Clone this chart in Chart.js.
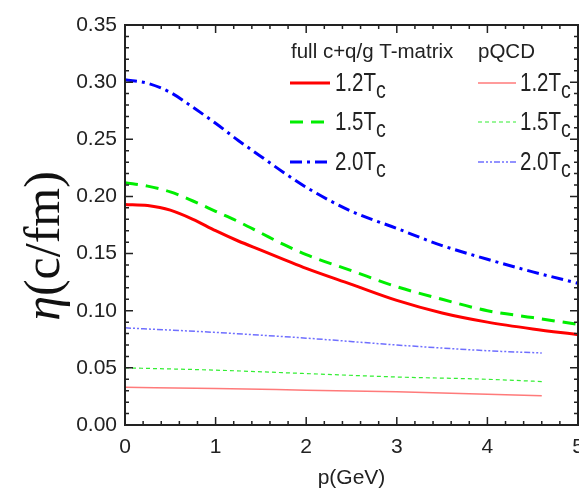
<!DOCTYPE html>
<html>
<head>
<meta charset="utf-8">
<script src="https://cdn.jsdelivr.net/npm/chart.js@4.4.0/dist/chart.umd.min.js"></script>
<style>
  html, body { margin: 0; padding: 0; background: #fff; }
  #wrap { width: 579px; height: 492px; }
</style>
</head>
<body>
<div id="wrap"><canvas id="chart"></canvas></div>
<script>
// momentum grid of the full T-matrix curves (GeV)
const pFull = [0, 0.25, 0.5, 0.75, 1, 1.25, 1.5, 1.75, 2, 2.5, 3, 3.5, 4, 4.5, 5];
const etaFull12 = [0.193, 0.192, 0.188, 0.180, 0.170, 0.161, 0.153, 0.145, 0.137, 0.123, 0.109, 0.098, 0.090, 0.084, 0.079];
const etaFull15 = [0.212, 0.209, 0.204, 0.196, 0.187, 0.178, 0.168, 0.158, 0.149, 0.135, 0.121, 0.110, 0.100, 0.094, 0.088];
const etaFull20 = [0.302, 0.299, 0.291, 0.278, 0.264, 0.249, 0.235, 0.221, 0.208, 0.187, 0.172, 0.157, 0.145, 0.134, 0.124];

// pQCD curves stop a bit before 5 GeV
const pQcd = [0, 1, 2, 3, 4, 4.6];
const etaQcd12 = [0.033, 0.032, 0.0305, 0.029, 0.027, 0.0255];
const etaQcd15 = [0.050, 0.048, 0.045, 0.042, 0.040, 0.038];
const etaQcd20 = [0.085, 0.081, 0.076, 0.070, 0.065, 0.063];

const tempLabels = ['1.2T', '1.5T', '2.0T'];
const tempSub = 'c';
const groupTitles = ['full c+q/g T-matrix', 'pQCD'];
const xTitle = 'p(GeV)';
const yTitle = ['η', '(c/fm)'];
const xMax = 5;
const yMax = 0.35;

const toXY = (xs, ys) => ys.map((y, i) => ({x: xs[i], y: y}));

function line(xs, ys, color, width, dash) {
    return {
        data: toXY(xs, ys),
        borderColor: color,
        borderWidth: width,
        borderDash: dash,
        pointRadius: 0,
        fill: false,
        cubicInterpolationMode: 'monotone'
    };
}

const datasets = [
    line(pFull, etaFull12, '#ff0000', 3, []),
    line(pFull, etaFull15, '#00ee00', 3, [13, 8]),
    line(pFull, etaFull20, '#0000ff', 3, [12, 5, 3, 5]),
    line(pQcd, etaQcd12, '#ff7a7a', 1.5, []),
    line(pQcd, etaQcd15, '#33ee33', 1.2, [4, 3]),
    line(pQcd, etaQcd20, '#6f6fff', 1.5, [6, 2, 2, 2, 2, 2])
];

// box around the plot with inward major/minor ticks on all four sides
const framePlugin = {
    id: 'frame',
    afterDatasetsDraw(chart) {
        const {ctx, chartArea: a, scales} = chart;
        const xs = scales.x, ys = scales.y;
        ctx.save();
        ctx.strokeStyle = '#222';
        ctx.lineWidth = 1.5;
        ctx.beginPath();
        for (let i = 0; i <= 25; i++) {
            const px = xs.getPixelForValue(i * 0.2);
            const len = i % 5 === 0 ? 8 : 4;
            ctx.moveTo(px, a.bottom); ctx.lineTo(px, a.bottom - len);
            ctx.moveTo(px, a.top); ctx.lineTo(px, a.top + len);
        }
        for (let i = 0; i <= 35; i++) {
            const py = ys.getPixelForValue(i * 0.01);
            const len = i % 5 === 0 ? 8 : 4;
            ctx.moveTo(a.left, py); ctx.lineTo(a.left + len, py);
            ctx.moveTo(a.right, py); ctx.lineTo(a.right - len, py);
        }
        ctx.stroke();
        ctx.lineWidth = 2;
        ctx.strokeRect(a.left, a.top, a.right - a.left, a.bottom - a.top);
        ctx.restore();
    }
};

// narrow text, like the squeezed legend labels of the original figure
function narrowText(ctx, text, x, y, font, sx) {
    ctx.save();
    ctx.font = font;
    ctx.translate(x, y);
    ctx.scale(sx, 1);
    ctx.fillText(text, 0, 0);
    const w = ctx.measureText(text).width * sx;
    ctx.restore();
    return w;
}

const legendPlugin = {
    id: 'twoColLegend',
    afterDatasetsDraw(chart) {
        const ctx = chart.ctx;
        const cols = [
            {x: 290, len: 40, textX: 335, ds: [0, 1, 2]},
            {x: 478, len: 38, textX: 520, ds: [3, 4, 5]}
        ];
        const rowY = [83, 122, 162];
        ctx.save();
        ctx.fillStyle = '#222';
        ctx.font = '20.5px "Liberation Sans"';
        ctx.fillText(groupTitles[0], 291, 58);
        ctx.fillText(groupTitles[1], 478, 58);
        cols.forEach(col => col.ds.forEach((di, r) => {
            const ds = chart.data.datasets[di];
            ctx.strokeStyle = ds.borderColor;
            ctx.lineWidth = ds.borderWidth;
            ctx.setLineDash(ds.borderDash);
            ctx.beginPath();
            ctx.moveTo(col.x, rowY[r]);
            ctx.lineTo(col.x + col.len, rowY[r]);
            ctx.stroke();
            ctx.setLineDash([]);
            const w = narrowText(ctx, tempLabels[r], col.textX, rowY[r] + 8, '25px "Liberation Sans"', 0.82);
            narrowText(ctx, tempSub, col.textX + w, rowY[r] + 15, '23px "Liberation Sans"', 0.85);
        }));
        ctx.restore();
    }
};

const yTitlePlugin = {
    id: 'yTitle',
    afterDraw(chart) {
        const ctx = chart.ctx;
        ctx.save();
        ctx.translate(46, 246);
        ctx.rotate(-Math.PI / 2);
        ctx.fillStyle = '#111';
        ctx.textBaseline = 'middle';
        ctx.font = 'italic 50px "Liberation Serif"';
        const w1 = ctx.measureText(yTitle[0]).width;
        ctx.font = '50px "Liberation Serif"';
        const w2 = ctx.measureText(yTitle[1]).width;
        const x0 = -(w1 + w2) / 2;
        ctx.font = 'italic 50px "Liberation Serif"';
        ctx.fillText(yTitle[0], x0, 0);
        ctx.font = '50px "Liberation Serif"';
        ctx.fillText(yTitle[1], x0 + w1, 0);
        ctx.restore();
    }
};

new Chart(document.getElementById('chart'), {
    type: 'line',
    data: {datasets: datasets},
    plugins: [framePlugin, legendPlugin, yTitlePlugin],
    options: {
        responsive: true,
        maintainAspectRatio: false,
        animation: false,
        layout: {padding: {top: 25, right: 1, left: 0, bottom: 0}},
        plugins: {legend: {display: false}, tooltip: {enabled: false}},
        scales: {
            x: {
                type: 'linear',
                min: 0,
                max: xMax,
                grid: {display: false, drawTicks: false},
                border: {display: false},
                ticks: {
                    stepSize: 1,
                    padding: 10,
                    color: '#222',
                    font: {family: 'Liberation Sans', size: 21}
                },
                title: {
                    display: true,
                    text: xTitle,
                    color: '#222',
                    font: {family: 'Liberation Sans', size: 21},
                    padding: {top: 0, bottom: 1}
                },
                afterFit(scale) {
                    scale.height = 67;
                    scale.paddingLeft = 0;
                    scale.paddingRight = 0;
                }
            },
            y: {
                min: 0,
                max: yMax,
                grid: {display: false, drawTicks: false},
                border: {display: false},
                ticks: {
                    stepSize: 0.05,
                    padding: 8,
                    color: '#222',
                    font: {family: 'Liberation Sans', size: 21},
                    callback: v => v.toFixed(2)
                },
                afterFit(scale) {
                    scale.width = 125;
                    scale.paddingTop = 0;
                    scale.paddingBottom = 0;
                }
            }
        }
    }
});
</script>
</body>
</html>
